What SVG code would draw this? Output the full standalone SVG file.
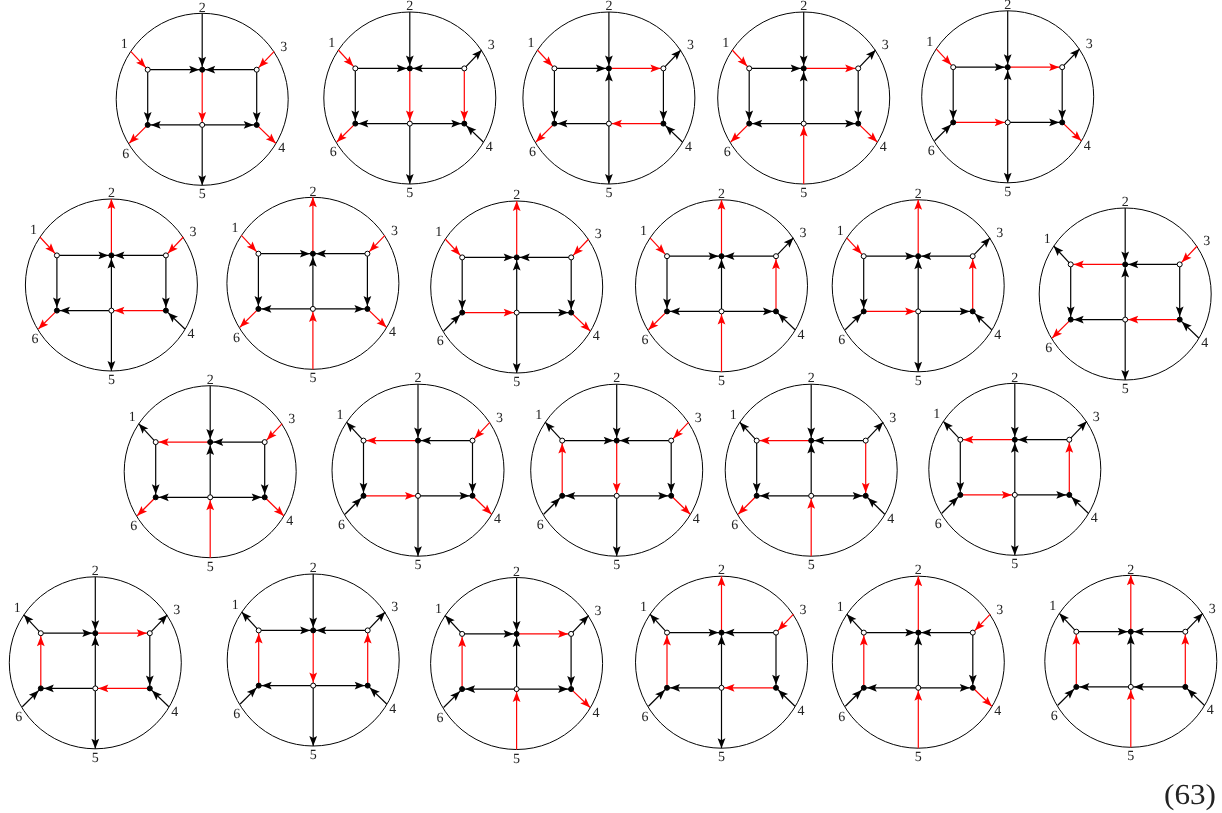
<svg xmlns="http://www.w3.org/2000/svg" width="1222" height="813" viewBox="0 0 1222 813">
<style>
text{font-family:"Liberation Serif","Times New Roman",serif;font-size:14px;fill:#222;text-anchor:middle;text-rendering:geometricPrecision}
.big{font-size:29px;fill:#222;text-anchor:start}
.o{fill:none;stroke:#000;stroke-width:1}
.c{color:#000}
.r{color:#f00}
line{stroke:currentColor;stroke-width:1.2;fill:none}
#h{fill:currentColor;stroke:none}
.w{fill:#fff;stroke:#000;stroke-width:1}
.b{fill:#000;stroke:#000;stroke-width:1}
</style>
<defs>
<path id="h" d="M0 0L-10 3.9L-8 0L-10-3.9Z"/>
<g id="1i"><line x1="-71.5" y1="-48" x2="-54.5" y2="-29.6"/><use href="#h" transform="translate(-56.5 -31.8) rotate(47.3)"/></g>
<g id="1o"><line x1="-71.5" y1="-48" x2="-54.5" y2="-29.6"/><use href="#h" transform="translate(-71.5 -48) rotate(227.3)"/></g>
<g id="2i"><line x1="0" y1="-86" x2="0" y2="-29.6"/><use href="#h" transform="translate(0 -32.6) rotate(90)"/></g>
<g id="2o"><line x1="0" y1="-86" x2="0" y2="-29.6"/><use href="#h" transform="translate(0 -86) rotate(-90)"/></g>
<g id="3i"><line x1="72" y1="-48" x2="54.5" y2="-29.6"/><use href="#h" transform="translate(56.6 -31.8) rotate(133.6)"/></g>
<g id="3o"><line x1="72" y1="-48" x2="54.5" y2="-29.6"/><use href="#h" transform="translate(72 -48) rotate(-46.4)"/></g>
<g id="4i"><line x1="73.5" y1="44" x2="54.5" y2="25.6"/><use href="#h" transform="translate(56.7 27.7) rotate(224.1)"/></g>
<g id="4o"><line x1="73.5" y1="44" x2="54.5" y2="25.6"/><use href="#h" transform="translate(73.5 44) rotate(44.1)"/></g>
<g id="5i"><line x1="0" y1="86" x2="0" y2="25.6"/><use href="#h" transform="translate(0 28.6) rotate(-90)"/></g>
<g id="5o"><line x1="0" y1="86" x2="0" y2="25.6"/><use href="#h" transform="translate(0 86) rotate(90)"/></g>
<g id="6i"><line x1="-73" y1="44" x2="-54.5" y2="25.6"/><use href="#h" transform="translate(-56.6 27.7) rotate(-44.8)"/></g>
<g id="6o"><line x1="-73" y1="44" x2="-54.5" y2="25.6"/><use href="#h" transform="translate(-73 44) rotate(135.2)"/></g>
<g id="ar"><line x1="-54.5" y1="-29.6" x2="0" y2="-29.6"/><use href="#h" transform="translate(-3 -29.6)"/></g>
<g id="al"><line x1="-54.5" y1="-29.6" x2="0" y2="-29.6"/><use href="#h" transform="translate(-51.5 -29.6) rotate(180)"/></g>
<g id="br"><line x1="0" y1="-29.6" x2="54.5" y2="-29.6"/><use href="#h" transform="translate(51.5 -29.6)"/></g>
<g id="bl"><line x1="0" y1="-29.6" x2="54.5" y2="-29.6"/><use href="#h" transform="translate(3 -29.6) rotate(180)"/></g>
<g id="cd"><line x1="-54.5" y1="-29.6" x2="-54.5" y2="25.6"/><use href="#h" transform="translate(-54.5 22.6) rotate(90)"/></g>
<g id="cu"><line x1="-54.5" y1="-29.6" x2="-54.5" y2="25.6"/><use href="#h" transform="translate(-54.5 -26.6) rotate(-90)"/></g>
<g id="dd"><line x1="0" y1="-29.6" x2="0" y2="25.6"/><use href="#h" transform="translate(0 22.6) rotate(90)"/></g>
<g id="du"><line x1="0" y1="-29.6" x2="0" y2="25.6"/><use href="#h" transform="translate(0 -26.6) rotate(-90)"/></g>
<g id="dn"><line x1="0" y1="-29.6" x2="0" y2="25.6"/></g>
<g id="ed"><line x1="54.5" y1="-29.6" x2="54.5" y2="25.6"/><use href="#h" transform="translate(54.5 22.6) rotate(90)"/></g>
<g id="eu"><line x1="54.5" y1="-29.6" x2="54.5" y2="25.6"/><use href="#h" transform="translate(54.5 -26.6) rotate(-90)"/></g>
<g id="fr"><line x1="-54.5" y1="25.6" x2="0" y2="25.6"/><use href="#h" transform="translate(-3 25.6)"/></g>
<g id="fl"><line x1="-54.5" y1="25.6" x2="0" y2="25.6"/><use href="#h" transform="translate(-51.5 25.6) rotate(180)"/></g>
<g id="gr"><line x1="0" y1="25.6" x2="54.5" y2="25.6"/><use href="#h" transform="translate(51.5 25.6)"/></g>
<g id="gl"><line x1="0" y1="25.6" x2="54.5" y2="25.6"/><use href="#h" transform="translate(3 25.6) rotate(180)"/></g>
<g id="n"><circle class="w" cx="-54.5" cy="-29.6" r="2.5"/><circle class="b" cx="0" cy="-29.6" r="2.5"/><circle class="w" cx="54.5" cy="-29.6" r="2.5"/><circle class="b" cx="-54.5" cy="25.6" r="2.5"/><circle class="w" cx="0" cy="25.6" r="2.5"/><circle class="b" cx="54.5" cy="25.6" r="2.5"/></g>
<g id="s"><circle class="o" r="86"/></g>
</defs>
<g opacity=".995">
<g id="d1" transform="translate(202.2 99.3)"><use href="#s"/><g class="c"><use href="#2i"/><use href="#5o"/><use href="#ar"/><use href="#bl"/><use href="#cd"/><use href="#ed"/><use href="#fl"/><use href="#gr"/><g class="r"><use href="#1i"/><use href="#3i"/><use href="#4o"/><use href="#6o"/><use href="#dd"/></g></g><use href="#n"/><text x="-78" y="-51">1</text><text y="-87.8">2</text><text x="81.5" y="-48.6">3</text><text x="79.5" y="53">4</text><text y="99">5</text><text x="-76.5" y="58.4">6</text></g>
<g id="d2" transform="translate(409.8 98)"><use href="#s"/><g class="c"><use href="#2i"/><use href="#3o"/><use href="#4i"/><use href="#5o"/><use href="#ar"/><use href="#bl"/><use href="#cd"/><use href="#fl"/><use href="#gr"/><g class="r"><use href="#1i"/><use href="#6o"/><use href="#dd"/><use href="#ed"/></g></g><use href="#n"/><text x="-78" y="-51">1</text><text y="-87.8">2</text><text x="81.5" y="-48.6">3</text><text x="79.5" y="53">4</text><text y="99">5</text><text x="-76.5" y="58.4">6</text></g>
<g id="d3" transform="translate(608.9 98)"><use href="#s"/><g class="c"><use href="#2i"/><use href="#3o"/><use href="#4i"/><use href="#5o"/><use href="#ar"/><use href="#cd"/><use href="#du"/><use href="#ed"/><use href="#fl"/><g class="r"><use href="#1i"/><use href="#6o"/><use href="#br"/><use href="#gl"/></g></g><use href="#n"/><text x="-78" y="-51">1</text><text y="-87.8">2</text><text x="81.5" y="-48.6">3</text><text x="79.5" y="53">4</text><text y="99">5</text><text x="-76.5" y="58.4">6</text></g>
<g id="d4" transform="translate(803.7 98)"><use href="#s"/><g class="c"><use href="#2i"/><use href="#3o"/><use href="#ar"/><use href="#cd"/><use href="#du"/><use href="#ed"/><use href="#fl"/><use href="#gr"/><g class="r"><use href="#1i"/><use href="#4o"/><use href="#5i"/><use href="#6o"/><use href="#br"/></g></g><use href="#n"/><text x="-78" y="-51">1</text><text y="-87.8">2</text><text x="81.5" y="-48.6">3</text><text x="79.5" y="53">4</text><text y="99">5</text><text x="-76.5" y="58.4">6</text></g>
<g id="d5" transform="translate(1007.7 96.8)"><use href="#s"/><g class="c"><use href="#2i"/><use href="#3o"/><use href="#5o"/><use href="#6i"/><use href="#ar"/><use href="#cd"/><use href="#du"/><use href="#ed"/><use href="#gr"/><g class="r"><use href="#1i"/><use href="#4o"/><use href="#br"/><use href="#fr"/></g></g><use href="#n"/><text x="-78" y="-51">1</text><text y="-87.8">2</text><text x="81.5" y="-48.6">3</text><text x="79.5" y="53">4</text><text y="99">5</text><text x="-76.5" y="58.4">6</text></g>
<g id="d6" transform="translate(111.4 285)"><use href="#s"/><g class="c"><use href="#4i"/><use href="#5o"/><use href="#ar"/><use href="#bl"/><use href="#cd"/><use href="#du"/><use href="#ed"/><use href="#fl"/><g class="r"><use href="#1i"/><use href="#2o"/><use href="#3i"/><use href="#6o"/><use href="#gl"/></g></g><use href="#n"/><text x="-78" y="-51">1</text><text y="-87.8">2</text><text x="81.5" y="-48.6">3</text><text x="79.5" y="53">4</text><text y="99">5</text><text x="-76.5" y="58.4">6</text></g>
<g id="d7" transform="translate(312.9 283.3)"><use href="#s"/><g class="c"><use href="#ar"/><use href="#bl"/><use href="#cd"/><use href="#du"/><use href="#ed"/><use href="#fl"/><use href="#gr"/><g class="r"><use href="#1i"/><use href="#2o"/><use href="#3i"/><use href="#4o"/><use href="#5i"/><use href="#6o"/></g></g><use href="#n"/><text x="-78" y="-51">1</text><text y="-87.8">2</text><text x="81.5" y="-48.6">3</text><text x="79.5" y="53">4</text><text y="99">5</text><text x="-76.5" y="58.4">6</text></g>
<g id="d8" transform="translate(516.7 287)"><use href="#s"/><g class="c"><use href="#5o"/><use href="#6i"/><use href="#ar"/><use href="#bl"/><use href="#cd"/><use href="#du"/><use href="#ed"/><use href="#gr"/><g class="r"><use href="#1i"/><use href="#2o"/><use href="#3i"/><use href="#4o"/><use href="#fr"/></g></g><use href="#n"/><text x="-78" y="-51">1</text><text y="-87.8">2</text><text x="81.5" y="-48.6">3</text><text x="79.5" y="53">4</text><text y="99">5</text><text x="-76.5" y="58.4">6</text></g>
<g id="d9" transform="translate(721.5 285.8)"><use href="#s"/><g class="c"><use href="#3o"/><use href="#4i"/><use href="#ar"/><use href="#bl"/><use href="#cd"/><use href="#du"/><use href="#fl"/><use href="#gr"/><g class="r"><use href="#1i"/><use href="#2o"/><use href="#5i"/><use href="#6o"/><use href="#eu"/></g></g><use href="#n"/><text x="-78" y="-51">1</text><text y="-87.8">2</text><text x="81.5" y="-48.6">3</text><text x="79.5" y="53">4</text><text y="99">5</text><text x="-76.5" y="58.4">6</text></g>
<g id="d10" transform="translate(918.2 285.8)"><use href="#s"/><g class="c"><use href="#3o"/><use href="#4i"/><use href="#5o"/><use href="#6i"/><use href="#ar"/><use href="#bl"/><use href="#cd"/><use href="#du"/><use href="#gr"/><g class="r"><use href="#1i"/><use href="#2o"/><use href="#eu"/><use href="#fr"/></g></g><use href="#n"/><text x="-78" y="-51">1</text><text y="-87.8">2</text><text x="81.5" y="-48.6">3</text><text x="79.5" y="53">4</text><text y="99">5</text><text x="-76.5" y="58.4">6</text></g>
<g id="d11" transform="translate(1125.2 294)"><use href="#s"/><g class="c"><use href="#1o"/><use href="#2i"/><use href="#4i"/><use href="#5o"/><use href="#bl"/><use href="#cd"/><use href="#du"/><use href="#ed"/><use href="#fl"/><g class="r"><use href="#3i"/><use href="#6o"/><use href="#al"/><use href="#gl"/></g></g><use href="#n"/><text x="-78" y="-51">1</text><text y="-87.8">2</text><text x="81.5" y="-48.6">3</text><text x="79.5" y="53">4</text><text y="99">5</text><text x="-76.5" y="58.4">6</text></g>
<g id="d12" transform="translate(210.2 471.7)"><use href="#s"/><g class="c"><use href="#1o"/><use href="#2i"/><use href="#bl"/><use href="#cd"/><use href="#du"/><use href="#ed"/><use href="#fl"/><use href="#gr"/><g class="r"><use href="#3i"/><use href="#4o"/><use href="#5i"/><use href="#6o"/><use href="#al"/></g></g><use href="#n"/><text x="-78" y="-51">1</text><text y="-87.8">2</text><text x="81.5" y="-48.6">3</text><text x="79.5" y="53">4</text><text y="99">5</text><text x="-76.5" y="58.4">6</text></g>
<g id="d13" transform="translate(418 470.2)"><use href="#s"/><g class="c"><use href="#1o"/><use href="#2i"/><use href="#5o"/><use href="#6i"/><use href="#bl"/><use href="#cd"/><use href="#dn"/><use href="#ed"/><use href="#gr"/><g class="r"><use href="#3i"/><use href="#4o"/><use href="#al"/><use href="#fr"/></g></g><use href="#n"/><text x="-78" y="-51">1</text><text y="-87.8">2</text><text x="81.5" y="-48.6">3</text><text x="79.5" y="53">4</text><text y="99">5</text><text x="-76.5" y="58.4">6</text></g>
<g id="d14" transform="translate(616.7 470.2)"><use href="#s"/><g class="c"><use href="#1o"/><use href="#2i"/><use href="#5o"/><use href="#6i"/><use href="#ar"/><use href="#bl"/><use href="#ed"/><use href="#fl"/><use href="#gr"/><g class="r"><use href="#3i"/><use href="#4o"/><use href="#cu"/><use href="#dd"/></g></g><use href="#n"/><text x="-78" y="-51">1</text><text y="-87.8">2</text><text x="81.5" y="-48.6">3</text><text x="79.5" y="53">4</text><text y="99">5</text><text x="-76.5" y="58.4">6</text></g>
<g id="d15" transform="translate(811.2 470.2)"><use href="#s"/><g class="c"><use href="#1o"/><use href="#2i"/><use href="#3o"/><use href="#4i"/><use href="#bl"/><use href="#cd"/><use href="#du"/><use href="#fl"/><use href="#gr"/><g class="r"><use href="#5i"/><use href="#6o"/><use href="#al"/><use href="#ed"/></g></g><use href="#n"/><text x="-78" y="-51">1</text><text y="-87.8">2</text><text x="81.5" y="-48.6">3</text><text x="79.5" y="53">4</text><text y="99">5</text><text x="-76.5" y="58.4">6</text></g>
<g id="d16" transform="translate(1014.8 469.3)"><use href="#s"/><g class="c"><use href="#1o"/><use href="#2i"/><use href="#3o"/><use href="#4i"/><use href="#5o"/><use href="#6i"/><use href="#bl"/><use href="#cd"/><use href="#du"/><use href="#gr"/><g class="r"><use href="#al"/><use href="#eu"/><use href="#fr"/></g></g><use href="#n"/><text x="-78" y="-51">1</text><text y="-87.8">2</text><text x="81.5" y="-48.6">3</text><text x="79.5" y="53">4</text><text y="99">5</text><text x="-76.5" y="58.4">6</text></g>
<g id="d17" transform="translate(95.3 662.8)"><use href="#s"/><g class="c"><use href="#1o"/><use href="#2i"/><use href="#3o"/><use href="#4i"/><use href="#5o"/><use href="#6i"/><use href="#ar"/><use href="#du"/><use href="#ed"/><use href="#fl"/><g class="r"><use href="#br"/><use href="#cu"/><use href="#gl"/></g></g><use href="#n"/><text x="-78" y="-51">1</text><text y="-87.8">2</text><text x="81.5" y="-48.6">3</text><text x="79.5" y="53">4</text><text y="99">5</text><text x="-76.5" y="58.4">6</text></g>
<g id="d18" transform="translate(313.2 660)"><use href="#s"/><g class="c"><use href="#1o"/><use href="#2i"/><use href="#3o"/><use href="#4i"/><use href="#5o"/><use href="#6i"/><use href="#ar"/><use href="#bl"/><use href="#fl"/><use href="#gr"/><g class="r"><use href="#cu"/><use href="#dd"/><use href="#eu"/></g></g><use href="#n"/><text x="-78" y="-51">1</text><text y="-87.8">2</text><text x="81.5" y="-48.6">3</text><text x="79.5" y="53">4</text><text y="99">5</text><text x="-76.5" y="58.4">6</text></g>
<g id="d19" transform="translate(516.6 663.5)"><use href="#s"/><g class="c"><use href="#1o"/><use href="#2i"/><use href="#3o"/><use href="#6i"/><use href="#ar"/><use href="#du"/><use href="#ed"/><use href="#fl"/><use href="#gr"/><g class="r"><use href="#4o"/><use href="#5i"/><use href="#br"/><use href="#cu"/></g></g><use href="#n"/><text x="-78" y="-51">1</text><text y="-87.8">2</text><text x="81.5" y="-48.6">3</text><text x="79.5" y="53">4</text><text y="99">5</text><text x="-76.5" y="58.4">6</text></g>
<g id="d20" transform="translate(721.5 662.2)"><use href="#s"/><g class="c"><use href="#1o"/><use href="#4i"/><use href="#5o"/><use href="#6i"/><use href="#ar"/><use href="#bl"/><use href="#du"/><use href="#ed"/><use href="#fl"/><g class="r"><use href="#2o"/><use href="#3i"/><use href="#cu"/><use href="#gl"/></g></g><use href="#n"/><text x="-78" y="-51">1</text><text y="-87.8">2</text><text x="81.5" y="-48.6">3</text><text x="79.5" y="53">4</text><text y="99">5</text><text x="-76.5" y="58.4">6</text></g>
<g id="d21" transform="translate(918.3 662.2)"><use href="#s"/><g class="c"><use href="#1o"/><use href="#6i"/><use href="#ar"/><use href="#bl"/><use href="#du"/><use href="#ed"/><use href="#fl"/><use href="#gr"/><g class="r"><use href="#2o"/><use href="#3i"/><use href="#4o"/><use href="#5i"/><use href="#cu"/></g></g><use href="#n"/><text x="-78" y="-51">1</text><text y="-87.8">2</text><text x="81.5" y="-48.6">3</text><text x="79.5" y="53">4</text><text y="99">5</text><text x="-76.5" y="58.4">6</text></g>
<g id="d22" transform="translate(1130.8 661.3)"><use href="#s"/><g class="c"><use href="#1o"/><use href="#3o"/><use href="#4i"/><use href="#6i"/><use href="#ar"/><use href="#bl"/><use href="#du"/><use href="#fl"/><use href="#gl"/><g class="r"><use href="#2o"/><use href="#5i"/><use href="#cu"/><use href="#eu"/></g></g><use href="#n"/><text x="-78" y="-51">1</text><text y="-87.8">2</text><text x="81.5" y="-48.6">3</text><text x="79.5" y="53">4</text><text y="99">5</text><text x="-76.5" y="58.4">6</text></g>
<text class="big" x="1164" y="804" textLength="52" lengthAdjust="spacingAndGlyphs">(63)</text>
</g>
</svg>
